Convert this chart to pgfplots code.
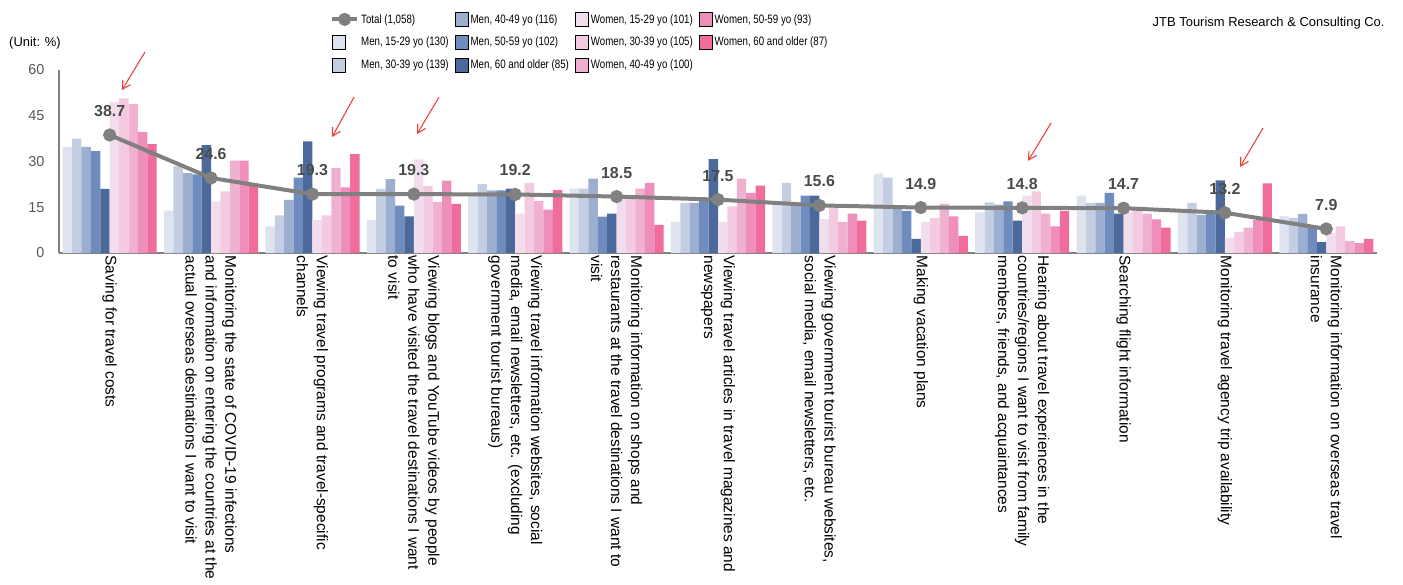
\documentclass[border=0pt]{standalone}
\usepackage{pgfplots}
\pgfplotsset{compat=1.18}
\usepackage{pgfplotstable}
\usepackage{fontspec}
\setmainfont{Liberation Sans}
\newfontfamily\legfont{Liberation Sans}[FakeStretch=0.8]
\usetikzlibrary{arrows.meta}

\definecolor{mA}{HTML}{DEE4EF}
\definecolor{mB}{HTML}{C3CEE2}
\definecolor{mC}{HTML}{9CAFD0}
\definecolor{mD}{HTML}{6E8DBE}
\definecolor{mE}{HTML}{4B6A9B}
\definecolor{wA}{HTML}{F1DDEB}
\definecolor{wB}{HTML}{F3CADF}
\definecolor{wC}{HTML}{F0B0D0}
\definecolor{wD}{HTML}{EE8EBA}
\definecolor{wE}{HTML}{F06C9C}
\definecolor{totc}{HTML}{808080}
\definecolor{labc}{HTML}{4A4A4A}
\definecolor{axc}{HTML}{7F7F7F}
\definecolor{ytc}{HTML}{595959}
\definecolor{arrc}{HTML}{E6453F}

\pgfplotstableread{
x  m1   m2   m3   m4   m5   w1   w2   w3   w4   w5   tot
0  34.8 37.5 34.8 33.4 21.0 49.5 50.7 48.9 39.7 35.7 38.7
1  13.9 28.4 26.2 25.8 35.4 16.9 20.2 30.3 30.3 22.5 24.6
2  8.7  12.3 17.4 24.7 36.6 10.9 12.3 27.9 21.5 32.4 19.3
3  10.9 21.0 24.2 15.5 12.0 30.7 22.0 16.8 23.7 16.1 19.3
4  19.7 22.6 20.5 20.5 21.1 12.9 23.0 17.0 14.2 20.6 19.2
5  21.1 21.1 24.4 11.9 12.9 18.4 18.5 21.1 23.0 9.2  18.5
6  10.2 16.4 16.4 17.5 30.8 10.2 15.3 24.4 19.7 22.1 17.5
7  16.2 23.0 16.2 18.8 18.8 11.1 15.3 10.2 12.9 10.6 15.6
8  26.0 24.7 15.5 13.8 4.6  10.2 11.5 16.1 12.0 5.6  14.9
9  13.3 16.6 15.9 16.9 10.6 18.8 20.2 12.9 8.7  13.8 14.8
10 18.8 16.4 16.4 19.7 12.9 13.4 14.2 12.9 11.0 8.3  14.7
11 13.3 16.4 12.5 13.1 23.8 5.0  6.9  8.3  10.9 22.8 13.2
12 12.2 11.5 12.8 8.2  3.6  6.6  8.7  4.0  3.2  4.6  7.9
}\data

\pgfplotsset{
  sq/.style={legend image code/.code={\fill[##1] (0bp,-7bp) rectangle (13bp,7bp);}},
  bars/.style={ybar, bar width=0.0928, draw=none, forget plot},
}

\begin{document}
\begin{tikzpicture}
\begin{axis}[
  at={(59bp,332bp)}, anchor=south west,
  scale only axis, width=1318bp, height=183bp,
  xmin=-0.5, xmax=12.5, ymin=0, ymax=60,
  axis x line=bottom, axis y line=left,
  axis line style={-, draw=axc, line width=1.8bp},
  ytick={0,15,30,45,60},
  xtick={0,...,12},
  tick style={draw=none},
  major tick length=0pt,
  /pgf/number format/assume math mode=true,
  yticklabel style={font=\fontsize{14.5}{16}\selectfont, text=ytc, xshift=-11bp},
  xticklabel style={rotate=-90, anchor=west, align=left, font=\fontsize{15.5}{20}\selectfont, inner sep=2.5bp},
  xticklabels={
    {Saving for travel costs},
    {Monitoring the state of COVID-19 infections\\and information on entering the countries at the\\actual overseas destinations I want to visit},
    {Viewing travel programs and travel-specific\\channels},
    {Viewing blogs and YouTube videos by people\\who have visited the travel destinations I want\\to visit},
    {Viewing travel information websites, social\\media, email newsletters, etc. (excluding\\government tourist bureaus)},
    {Monitoring information on shops and\\restaurants at the travel destinations I want to\\visit},
    {Viewing travel articles in travel magazines and\\newspapers},
    {Viewing government tourist bureau websites,\\social media, email newsletters, etc.},
    {Making vacation plans},
    {Hearing about travel experiences in the\\countries/regions I want to visit from family\\members, friends, and acquaintances},
    {Searching flight information},
    {Monitoring travel agency trip availability},
    {Monitoring information on overseas travel\\insurance}
  },
  clip=false,
  legend columns=4,
  legend cell align=left,
  legend style={at={(0.2056,1.317)}, anchor=north west, draw=none, fill=none,
    inner sep=0pt, font=\legfont\fontsize{12.2}{13}\selectfont, row sep=8.5bp,
    /tikz/every even column/.append style={column sep=4.5bp}},
]
\addplot[bars, bar shift=-0.4176, fill=mA] table[x=x,y=m1]{\data};
\addplot[bars, bar shift=-0.3248, fill=mB] table[x=x,y=m2]{\data};
\addplot[bars, bar shift=-0.2320, fill=mC] table[x=x,y=m3]{\data};
\addplot[bars, bar shift=-0.1392, fill=mD] table[x=x,y=m4]{\data};
\addplot[bars, bar shift=-0.0464, fill=mE] table[x=x,y=m5]{\data};
\addplot[bars, bar shift=0.0464, fill=wA] table[x=x,y=w1]{\data};
\addplot[bars, bar shift=0.1392, fill=wB] table[x=x,y=w2]{\data};
\addplot[bars, bar shift=0.2320, fill=wC] table[x=x,y=w3]{\data};
\addplot[bars, bar shift=0.3248, fill=wD] table[x=x,y=w4]{\data};
\addplot[bars, bar shift=0.4176, fill=wE] table[x=x,y=w5]{\data};
\addplot[forget plot, color=totc, line width=4bp, mark=*, mark size=4.5bp,
  mark options={fill=totc, draw=none},
  nodes near coords, point meta=explicit symbolic,
  every node near coord/.append style={font=\fontsize{16}{17}\selectfont\bfseries, text=labc, anchor=center, yshift=24bp}]
  table[x=x,y=tot,meta=tot]{\data};

% legend (row-major order reproducing column-wise layout)
\addlegendimage{color=totc, line width=4bp, legend image code/.code={\draw[totc, line width=4bp] (0bp,0bp) -- (25bp,0bp); \fill[totc] (12.5bp,0bp) circle (4.5bp);}}
\addlegendentry{Total (1,058)}
\addlegendimage{sq, fill=mC}\addlegendentry{Men, 40-49 yo (116)}
\addlegendimage{sq, fill=wA}\addlegendentry{Women, 15-29 yo (101)}
\addlegendimage{sq, fill=wD}\addlegendentry{Women, 50-59 yo (93)}
\addlegendimage{sq, fill=mA}\addlegendentry{Men, 15-29 yo (130)}
\addlegendimage{sq, fill=mD}\addlegendentry{Men, 50-59 yo (102)}
\addlegendimage{sq, fill=wB}\addlegendentry{Women, 30-39 yo (105)}
\addlegendimage{sq, fill=wE}\addlegendentry{Women, 60 and older (87)}
\addlegendimage{sq, fill=mB}\addlegendentry{Men, 30-39 yo (139)}
\addlegendimage{sq, fill=mE}\addlegendentry{Men, 60 and older (85)}
\addlegendimage{sq, fill=wC}\addlegendentry{Women, 40-49 yo (100)}

% hand-drawn style red arrows
\draw[arrc, line width=1.1bp, -{Straight Barb[length=8bp,width=9bp]}] (axis cs:0.348,65.9) -- (axis cs:0.121,53.4);
\draw[arrc, line width=1.1bp, -{Straight Barb[length=8bp,width=9bp]}] (axis cs:2.410,51.1) -- (axis cs:2.193,38.0);
\draw[arrc, line width=1.1bp, -{Straight Barb[length=8bp,width=9bp]}] (axis cs:3.248,51.1) -- (axis cs:3.031,39.0);
\draw[arrc, line width=1.1bp, -{Straight Barb[length=8bp,width=9bp]}] (axis cs:9.285,42.6) -- (axis cs:9.058,30.2);
\draw[arrc, line width=1.1bp, -{Straight Barb[length=8bp,width=9bp]}] (axis cs:11.376,41.0) -- (axis cs:11.149,28.2);
\end{axis}
\node[font=\fontsize{13}{15}\selectfont] at (35bp,542bp) {(Unit: \%)};
\node[font=\fontsize{13}{15}\selectfont, anchor=east] at (1388bp,562bp) {JTB Tourism Research \& Consulting Co.};
\pgfresetboundingbox
\path[use as bounding box] (0bp,0bp) rectangle (1403bp,585bp);
\end{tikzpicture}
\end{document}
